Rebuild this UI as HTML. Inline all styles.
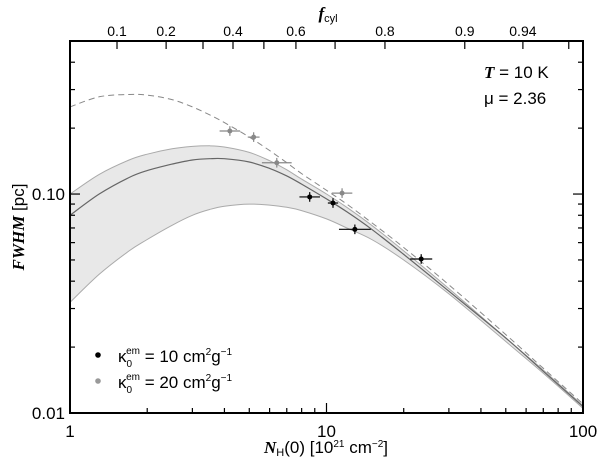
<!DOCTYPE html>
<html><head><meta charset="utf-8"><style>
body{margin:0;background:#fff}
svg text{font-family:"Liberation Sans",sans-serif;fill:#000}
</style></head><body>
<svg id="c" width="600" height="460" xmlns="http://www.w3.org/2000/svg"></svg>
<script>
const curveN=[1,1.3,1.7,2,2.5,3,3.5,4,5,6,7,8,10,12,15,20,30,50,70,100];
const modelF=[0.08,0.1,0.119,0.128,0.137,0.143,0.145,0.145,0.14,0.131,0.121,0.111,0.095,0.083,0.069,0.053,0.036,0.022,0.0155,0.0107];
const bandUpper=[0.10,0.123,0.143,0.152,0.161,0.165,0.166,0.164,0.155,0.142,0.129,0.117,0.1,0.087,0.072,0.055,0.037,0.022,0.0157,0.0108];
const bandLower=[0.032,0.043,0.055,0.062,0.072,0.08,0.085,0.088,0.09,0.089,0.087,0.084,0.077,0.07,0.062,0.05,0.035,0.0212,0.0152,0.0105];
const dashedF=[0.25,0.278,0.285,0.283,0.27,0.25,0.23,0.212,0.182,0.158,0.139,0.124,0.104,0.09,0.074,0.057,0.0385,0.0228,0.016,0.011];
const blackN=[8.6,10.6,12.9,23.4];
const blackF=[0.097,0.091,0.069,0.0505];
const blackXerr=[0.04,0.02,0.062,0.043];
const greyN=[4.2,5.2,6.4,11.5];
const greyF=[0.194,0.182,0.139,0.101];
const greyXerr=[0.04,0.023,0.058,0.04];
const yErrDex=0.022;
const xTicks=[1,10,100];
const yTickLabels=[[0.01,"0.01"],[0.1,"0.10"]];
const fTicks=[[1.525,"0.1"],[2.37,"0.2"],[3.3,"0.3",0],[4.32,"0.4"],[5.7,"0.5",0],[7.6,"0.6"],[10.8,"0.7",0],[16.9,"0.8"],[34.6,"0.9"],[58.3,"0.94"],[88,"0.96",0]];
const L=70,R=583,T=41,B=413;
const X=n=>L+(R-L)*Math.log10(n)/2;
const Y=f=>B-(B-T)*(Math.log10(f)+2)/Math.log10(50);
const svg=document.getElementById('c');
const NS="http://www.w3.org/2000/svg";
function mk(tag,attrs,name,parent){const e=document.createElementNS(NS,tag);for(const k in attrs)e.setAttribute(k,attrs[k]);


(parent||svg).appendChild(e);return e;}
function smooth(xs,ys,start){const p=xs.map((n,i)=>[X(n),Y(ys[i])]);let d=start?"M"+p[0][0]+","+p[0][1]:"L"+p[0][0]+","+p[0][1];
 for(let i=0;i<p.length-1;i++){const p0=p[Math.max(0,i-1)],p1=p[i],p2=p[i+1],p3=p[Math.min(p.length-1,i+2)];
 d+=" C"+(p1[0]+(p2[0]-p0[0])/6).toFixed(1)+","+(p1[1]+(p2[1]-p0[1])/6).toFixed(1)+" "+(p2[0]-(p3[0]-p1[0])/6).toFixed(1)+","+(p2[1]-(p3[1]-p1[1])/6).toFixed(1)+" "+p2[0].toFixed(1)+","+p2[1].toFixed(1);}
 return d;}
const rn=curveN.slice().reverse(), rl=bandLower.slice().reverse();
mk('path',{d:smooth(curveN,bandUpper,true)+" "+smooth(rn,rl,false)+"Z",fill:"#e8e8e8",stroke:"none"},'uncertainty-band');
mk('path',{d:smooth(curveN,bandUpper,true),fill:"none",stroke:"#aaa","stroke-width":1},'band-upper-edge');
mk('path',{d:smooth(curveN,bandLower,true),fill:"none",stroke:"#aaa","stroke-width":1},'band-lower-edge');
mk('path',{d:smooth(curveN,modelF,true),fill:"none",stroke:"#666","stroke-width":1.2},'model-curve');
mk('path',{d:smooth(curveN,dashedF,true),fill:"none",stroke:"#888","stroke-width":1,"stroke-dasharray":"6,4"},'dashed-curve');
function pointsSeries(ns,fs,xe,col,name){ns.forEach((n,i)=>{
 const g=mk('g',{},name+'-point-'+i);
 mk('line',{x1:X(n*Math.pow(10,-xe[i])),x2:X(n*Math.pow(10,xe[i])),y1:Y(fs[i]),y2:Y(fs[i]),stroke:col,"stroke-width":1.2},name+'-xerr',g);
 mk('line',{x1:X(n),x2:X(n),y1:Y(fs[i]*Math.pow(10,yErrDex)),y2:Y(fs[i]/Math.pow(10,yErrDex)),stroke:col,"stroke-width":1.2},name+'-yerr',g);
 mk('circle',{cx:X(n),cy:Y(fs[i]),r:2.5,fill:col},name+'-marker',g);});}
pointsSeries(greyN,greyF,greyXerr,"#888",'grey');
pointsSeries(blackN,blackF,blackXerr,"#000",'black');
mk('rect',{x:L,y:T,width:R-L,height:B-T,fill:"none",stroke:"#000","stroke-width":2},'plot-frame');
for(let d=0;d<2;d++)for(let k=1;k<10;k++){const n=Math.pow(10,d)*k;const len=k==1?10:5;
 mk('line',{x1:X(n),x2:X(n),y1:B,y2:B-len,stroke:"#000","stroke-width":1.2},'x-tick');}
xTicks.forEach(n=>{const t=mk('text',{x:X(n),y:B+24,"font-size":17,"text-anchor":"middle"},'x-tick-label');t.textContent=n;});
[0.01,0.02,0.03,0.04,0.05,0.06,0.07,0.08,0.09,0.1,0.2,0.3,0.4,0.5].forEach(f=>{const len=(f==0.01||f==0.1)?10:5;
 mk('line',{x1:L,x2:L+len,y1:Y(f),y2:Y(f),stroke:"#000","stroke-width":1.2},'y-tick');
 mk('line',{x1:R,x2:R-len,y1:Y(f),y2:Y(f),stroke:"#000","stroke-width":1.2},'y-tick-right');});
yTickLabels.forEach(([f,s])=>{const t=mk('text',{x:L-5,y:Y(f)+6,"font-size":17,"text-anchor":"end"},'y-tick-label');t.textContent=s;});
fTicks.forEach(([n,s,lab])=>{mk('line',{x1:X(n),x2:X(n),y1:T,y2:T+8,stroke:"#000","stroke-width":1.2},'top-tick');
 if(lab!==0){const t=mk('text',{x:X(n),y:T-5,"font-size":14,"text-anchor":"middle"},'top-tick-label');t.textContent=s;}});
</script>
<svg width="600" height="460" style="position:absolute;left:0;top:0">
<text x="328" y="19" font-size="17" text-anchor="middle" style="font-family:'Liberation Serif',serif;font-style:italic;font-weight:bold">f<tspan font-size="11" dy="3" style="font-family:'Liberation Sans',sans-serif;font-style:normal;font-weight:normal">cyl</tspan></text>
<text x="484" y="78" font-size="17" style="font-family:'Liberation Sans',sans-serif"><tspan style="font-family:'Liberation Serif',serif;font-style:italic;font-weight:bold">T</tspan> = 10 K</text>
<text x="484" y="104" font-size="17" style="font-family:'Liberation Sans',sans-serif">μ = 2.36</text>
<circle cx="98" cy="355" r="2.8" fill="#000"/>
<text x="118" y="362" font-size="17" style="font-family:'Liberation Sans',sans-serif">κ<tspan font-size="10" dy="5">0</tspan><tspan font-size="10" dx="-6" dy="-13">em</tspan><tspan dy="8"> = 10 cm</tspan><tspan font-size="10" dy="-7">2</tspan><tspan dy="7">g</tspan><tspan font-size="10" dy="-7">−1</tspan></text>
<circle cx="98" cy="381" r="2.8" fill="#999"/>
<text x="118" y="388" font-size="17" style="font-family:'Liberation Sans',sans-serif">κ<tspan font-size="10" dy="5">0</tspan><tspan font-size="10" dx="-6" dy="-13">em</tspan><tspan dy="8"> = 20 cm</tspan><tspan font-size="10" dy="-7">2</tspan><tspan dy="7">g</tspan><tspan font-size="10" dy="-7">−1</tspan></text>
<text x="326" y="453" font-size="17" text-anchor="middle" style="font-family:'Liberation Sans',sans-serif"><tspan style="font-family:'Liberation Serif',serif;font-style:italic;font-weight:bold">N</tspan><tspan font-size="11" dy="3">H</tspan><tspan dy="-3">(0) [10</tspan><tspan font-size="10" dy="-6">21</tspan><tspan dy="6"> cm</tspan><tspan font-size="10" dy="-6">−2</tspan><tspan dy="6">]</tspan></text>
<text x="24" y="227" font-size="17" text-anchor="middle" transform="rotate(-90 24 227)" style="font-family:'Liberation Sans',sans-serif"><tspan style="font-family:'Liberation Serif',serif;font-style:italic;font-weight:bold">FWHM</tspan> [pc]</text>
</svg>
</body></html>
